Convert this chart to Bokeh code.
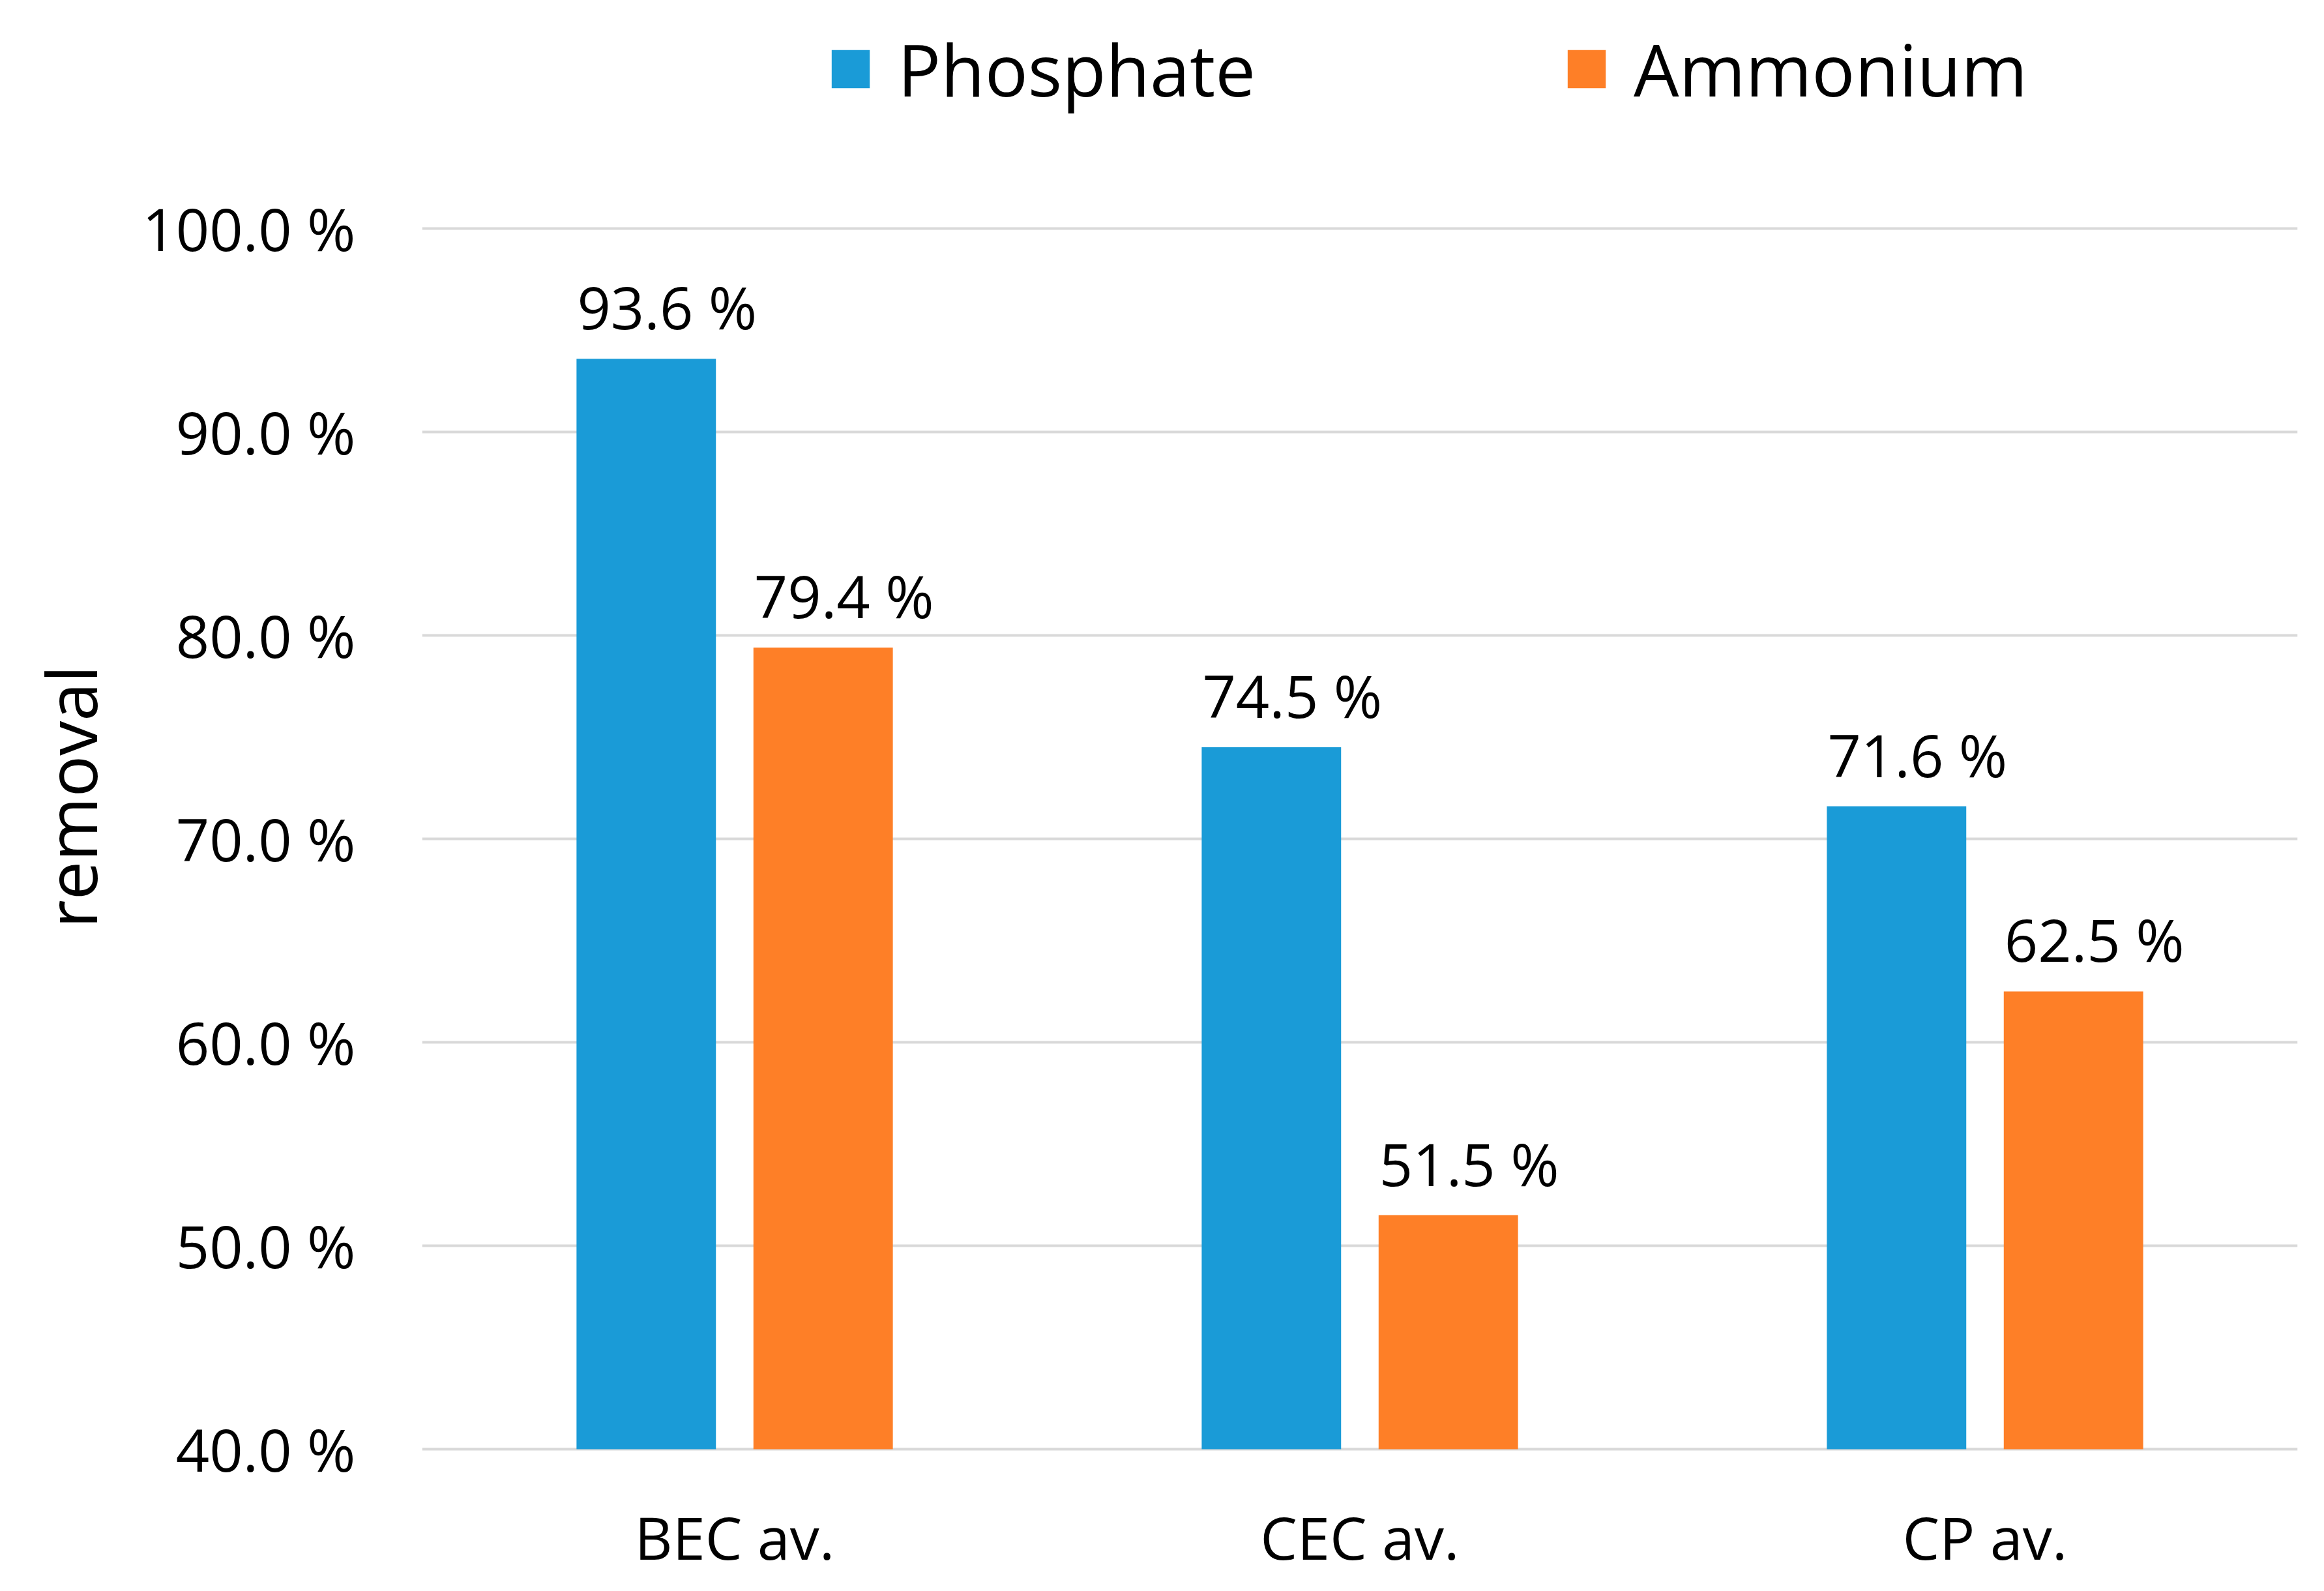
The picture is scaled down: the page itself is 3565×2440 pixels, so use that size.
from bokeh.plotting import figure
from bokeh.models import (FactorRange, Range1d, PrintfTickFormatter, FixedTicker,
                          Legend, LegendItem, ColumnDataSource, Title)
from bokeh.transform import dodge
from bokeh.core.properties import value
from bokeh.embed import file_html
from bokeh.resources import INLINE

# ---- data ----
categories = ["BEC av.", "CEC av.", "CP av."]
phosphate = [93.6, 74.5, 71.6]
ammonium = [79.4, 51.5, 62.5]
series_names = ["Phosphate", "Ammonium"]
y_ticks = [40, 50, 60, 70, 80, 90, 100]
y_min, y_max = 40, 100
y_title = "removal"

# ---- styles / layout ----
colors = ["#1A9BD7", "#FE7F27"]
FONT = "Open Sans"
W, H = 3545, 2420
frame_l, frame_r = 647, 3524
y100_px, y40_px = 350, 2222          # pixel rows of the 100 % and 40 % grid lines
px_per_unit = (y40_px - y100_px) / (y_max - y_min)
pad_units = 0.1
frame_b = y40_px + pad_units * px_per_unit
y_start = y_min - pad_units
y_end = y_start + frame_b / px_per_unit   # frame reaches the top edge (legend room)

src = ColumnDataSource(dict(
    cat=categories,
    phos=phosphate,
    amm=ammonium,
    phos_lbl=[f"{v:.1f} %" for v in phosphate],
    amm_lbl=[f"{v:.1f} %" for v in ammonium],
))

p = figure(width=W, height=H,
           x_range=FactorRange(*categories), y_range=Range1d(y_start, y_end),
           output_backend="svg", toolbar_location=None,
           min_border_left=frame_l, min_border_right=W - frame_r,
           min_border_top=0, min_border_bottom=int(round(H - frame_b)))
p.outline_line_color = None
p.background_fill_color = "white"
p.border_fill_color = "white"

off = 0.1415
bw = 0.223
r1 = p.vbar(x=dodge("cat", -off, range=p.x_range), top="phos", bottom=y_min, width=bw,
            source=src, fill_color=colors[0], line_color=None)
r2 = p.vbar(x=dodge("cat", off, range=p.x_range), top="amm", bottom=y_min, width=bw,
            source=src, fill_color=colors[1], line_color=None)

for col, lbl, o in (("phos", "phos_lbl", -off), ("amm", "amm_lbl", off)):
    p.text(x=dodge("cat", o, range=p.x_range), y=col, text=lbl, source=src,
           text_align="center", text_baseline="alphabetic",
           x_offset=32, y_offset=-80,
           text_font=value(FONT), text_font_size="90px", text_color="#000000")

# grid
p.xgrid.grid_line_color = None
p.ygrid.ticker = FixedTicker(ticks=y_ticks)
p.ygrid.grid_line_color = "#D9D9D9"
p.ygrid.grid_line_width = 4

# y axis
p.yaxis.ticker = FixedTicker(ticks=y_ticks)
p.yaxis.formatter = PrintfTickFormatter(format="%.1f %%")
p.yaxis.axis_line_color = None
p.yaxis.major_tick_line_color = None
p.yaxis.minor_tick_line_color = None
p.yaxis.major_tick_out = 0
p.yaxis.major_tick_in = 0
p.yaxis.major_label_standoff = 102
p.yaxis.major_label_text_font = FONT
p.yaxis.major_label_text_font_size = "90px"
p.yaxis.major_label_text_color = "#000000"

ytitle = Title(text=y_title, align="left", offset=802, vertical_align="top",
               standoff=68, text_font=FONT, text_font_size="106px",
               text_font_style="normal", text_color="#000000")
p.add_layout(ytitle, "left")

# x axis
p.xaxis.axis_line_color = None
p.xaxis.major_tick_line_color = None
p.xaxis.minor_tick_line_color = None
p.xaxis.major_tick_out = 0
p.xaxis.major_tick_in = 0
p.xaxis.major_label_standoff = 70
p.xaxis.major_label_text_font = FONT
p.xaxis.major_label_text_font_size = "90px"
p.xaxis.major_label_text_color = "#000000"

legend = Legend(items=[LegendItem(label=series_names[0], renderers=[r1]),
                       LegendItem(label=series_names[1], renderers=[r2])],
                orientation="horizontal", location=(621, int(round(frame_b - 180))),
                glyph_width=73, glyph_height=73, label_standoff=36, spacing=471,
                padding=0, margin=0, border_line_alpha=0, background_fill_alpha=0,
                label_text_font=FONT, label_text_font_size="110px",
                label_text_color="#000000")
p.add_layout(legend)

open("out.html", "w").write(file_html(p, INLINE))
